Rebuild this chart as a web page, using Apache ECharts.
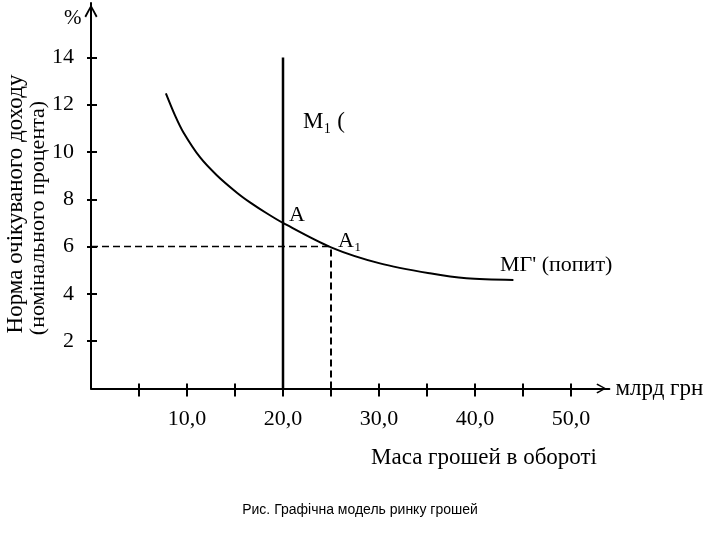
<!DOCTYPE html>
<html>
<head>
<meta charset="utf-8">
<script src="https://cdn.jsdelivr.net/npm/echarts@6/dist/echarts.min.js"></script>
<style>html,body{margin:0;padding:0;background:#fff}#c{width:720px;height:540px}</style>
</head>
<body>
<div id="c"></div>
<script>
// Data
const demandCurve = [[7.8,12.48],[8.75,11.55],[9.6,10.85],[11.35,9.78],[13.1,9.02],[15.2,8.28],[16.6,7.86],[18.3,7.41],[20,7.0],[25,5.97],[30.1,5.29],[35.3,4.87],[39.1,4.66],[44.0,4.59]];
const supplyLine = [[20,0],[20,14]];
const dashH = [[0,6],[25,6]];
const dashV = [[25,0],[25,6]];
const xTicks = [5,10,15,20,25,30,35,40,45,50];
const xLabels = [10,20,30,40,50];
const yTicks = [2,4,6,8,10,12,14];
const yLabels = [2,4,6,8,10,12,14];

const serif = 'Liberation Serif, Times New Roman, serif';
const arrowPath = 'path://M50,0 L100,90 L88,100 L50,26 L12,100 L0,90 Z';
const chart = echarts.init(document.getElementById('c'));
const grid = {left:91, right:110.6, top:3, bottom:151.5};
const xBase = {type:'value', min:0, max:54, interval:5, splitLine:{show:false}, position:'bottom'};
const yBase = {type:'value', min:0, max:16.3, interval:2, splitLine:{show:false}, position:'left'};
chart.setOption({
  animation:false,
  grid: grid,
  xAxis: [
    Object.assign({}, xBase, {
      axisLine:{show:true, lineStyle:{color:'#000', width:2}, symbol:['none', arrowPath], symbolSize:[10,17], symbolOffset:[0,-8]},
      axisTick:{show:true, inside:false, length:8, lineStyle:{color:'#000', width:2}, customValues:xTicks},
      axisLabel:{show:true, margin:20, color:'#000', fontFamily:serif, fontSize:22, customValues:xLabels,
        formatter:v=>v.toFixed(1).replace('.',',')},
      name:'млрд грн', nameLocation:'end', nameGap:6,
      nameTextStyle:{color:'#000', fontFamily:serif, fontSize:23, verticalAlign:'middle', padding:[4,0,0,0]}
    }),
    Object.assign({}, xBase, {
      axisLine:{show:false},
      axisTick:{show:true, inside:true, length:5, lineStyle:{color:'#000', width:2}, customValues:xTicks},
      axisLabel:{show:false}
    })
  ],
  yAxis: [
    Object.assign({}, yBase, {
      axisLine:{show:true, lineStyle:{color:'#000', width:2}, symbol:['none', arrowPath], symbolSize:[13,17], symbolOffset:[0,-8]},
      axisTick:{show:true, inside:false, length:4, lineStyle:{color:'#000', width:2}, customValues:yTicks},
      axisLabel:{show:true, margin:17, color:'#000', fontFamily:serif, fontSize:22, customValues:yLabels}
    }),
    Object.assign({}, yBase, {
      axisLine:{show:false},
      axisTick:{show:true, inside:true, length:6, lineStyle:{color:'#000', width:2}, customValues:yTicks},
      axisLabel:{show:false}
    })
  ],
  series: [
    {type:'line', data:demandCurve, smooth:0.3, symbol:'none', lineStyle:{color:'#000', width:2}},
    {type:'line', data:supplyLine, symbol:'none', lineStyle:{color:'#000', width:2.5}},
    {type:'line', data:dashH, symbol:'none', lineStyle:{color:'#000', width:1.5, type:[7,4]}},
    {type:'line', data:dashV, symbol:'none', lineStyle:{color:'#000', width:2, type:[7,4]}}
  ],
  graphic: [
    {type:'text', left:64, top:8, style:{text:'%', font:'21px '+serif, fill:'#000'}},
    {type:'text', x:303, y:122, style:{text:'M₁ (', font:'23px '+serif, fill:'#000', verticalAlign:'middle'}},
    {type:'text', x:289, y:215, style:{text:'A', font:'22px '+serif, fill:'#000', verticalAlign:'middle'}},
    {type:'text', x:338, y:241, style:{text:'A₁', font:'22px '+serif, fill:'#000', verticalAlign:'middle'}},
    {type:'text', x:500, y:265, style:{text:"MГ' (попит)", font:'22px '+serif, fill:'#000', verticalAlign:'middle'}},
    {type:'text', x:16, y:204, rotation:Math.PI/2, style:{text:'Норма очікуваного доходу', font:'23px '+serif, fill:'#000', align:'center', verticalAlign:'middle'}},
    {type:'text', x:38, y:218, rotation:Math.PI/2, style:{text:'(номінального процента)', font:'22px '+serif, fill:'#000', align:'center', verticalAlign:'middle'}},
    {type:'text', x:484, y:458, style:{text:'Маса грошей в обороті', font:'23px '+serif, fill:'#000', align:'center', verticalAlign:'middle'}},
    {type:'text', x:360, y:510, style:{text:'Рис. Графічна модель ринку грошей', font:'14px Liberation Sans, Arial, sans-serif', fill:'#000', align:'center', verticalAlign:'middle'}}
  ]
});
</script>
</body>
</html>
